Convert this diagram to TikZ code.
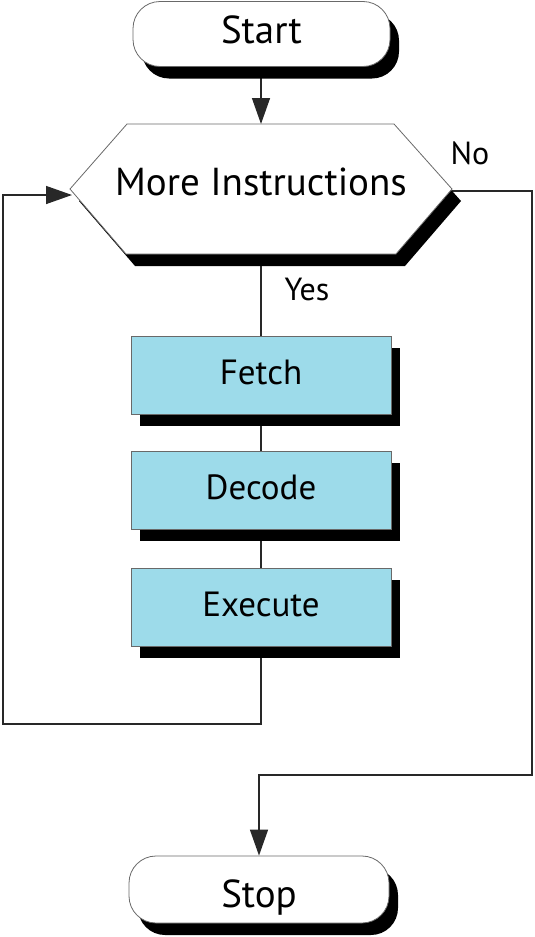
\documentclass[tikz,border=0pt]{standalone}
\usepackage{fontspec}
\setmainfont{PT Sans}
\usetikzlibrary{shapes.misc,shadows,arrows.meta,backgrounds}
\definecolor{boxblue}{RGB}{157,219,234}
\definecolor{edgegray}{RGB}{105,105,105}
\definecolor{wiregray}{RGB}{40,40,40}
\begin{document}
\begin{tikzpicture}[x=1pt,y=-1pt,
  shadowed/.style={drop shadow={shadow xshift=9pt,shadow yshift=-12pt,opacity=1,fill=black}},
  bigfont/.style={font=\fontsize{39}{39}\selectfont},
  smallfont/.style={font=\fontsize{32}{32}\selectfont},
  boxfont/.style={font=\fontsize{35}{35}\selectfont},
  term/.style={rectangle, rounded corners=27pt, draw=edgegray, line width=0.8pt, fill=white, shadowed,
    minimum width=257pt, minimum height=65pt, inner sep=0pt, bigfont},
  stepbox/.style={rectangle, draw=edgegray, line width=0.8pt, fill=boxblue, shadowed,
    minimum width=260pt, minimum height=78pt, inner sep=0pt, boxfont, text height=24pt, text depth=6pt},
  wire/.style={draw=wiregray, line width=1.4pt},
  arr/.style={wire, -{Triangle[length=26pt,width=18pt]}},
  lbl/.style={smallfont, inner sep=0pt, anchor=base}
]
\useasboundingbox (0,0) rectangle (535,937);

% terminals
\node[term, text height=27pt, text depth=9pt] (start) at (261.5,34) {Start};
\node[term, minimum width=260pt, minimum height=67pt, text height=35pt, text depth=0pt] (stop) at (259,889.5) {Stop};

% decision hexagon
\path[shadowed, draw=edgegray, line width=0.8pt, fill=white]
  (70,189) -- (127,124) -- (394,124) -- (452,189) -- (396,254) -- (126,254) -- cycle;
\coordinate (hextop) at (261,124);
\coordinate (hexbot) at (261,254);
\coordinate (hexw) at (72,195);
\coordinate (hexe) at (452,191);
\node[bigfont, inner sep=0pt, anchor=base] (more) at (261,195.5) {More Instructions};

% process steps
\node[stepbox] (fetch) at (261,375) {Fetch};
\node[stepbox] (decode) at (261,490) {Decode};
\node[stepbox] (execute) at (261,607) {Execute};

% labels
\node[lbl] (yes) at (307,300) {Yes};
\node[lbl] (no) at (470,164) {No};

% connector corners
\coordinate (loopbl) at (3,724);
\coordinate (rtop) at (532,191);
\coordinate (rbot) at (532,775);

\begin{scope}[on background layer]
  \draw[arr] (hextop |- start.south) -- (hextop);
  \draw[wire] (hexbot) -- (hexbot |- fetch.north);
  \draw[wire] (fetch) -- (decode);
  \draw[wire] (decode) -- (execute);
  \draw[arr] (execute.south) |- (loopbl) |- (hexw);
  \draw[arr] (hexe) -- (rtop) -- (rbot) -| (stop.north);
\end{scope}
\end{tikzpicture}
\end{document}
